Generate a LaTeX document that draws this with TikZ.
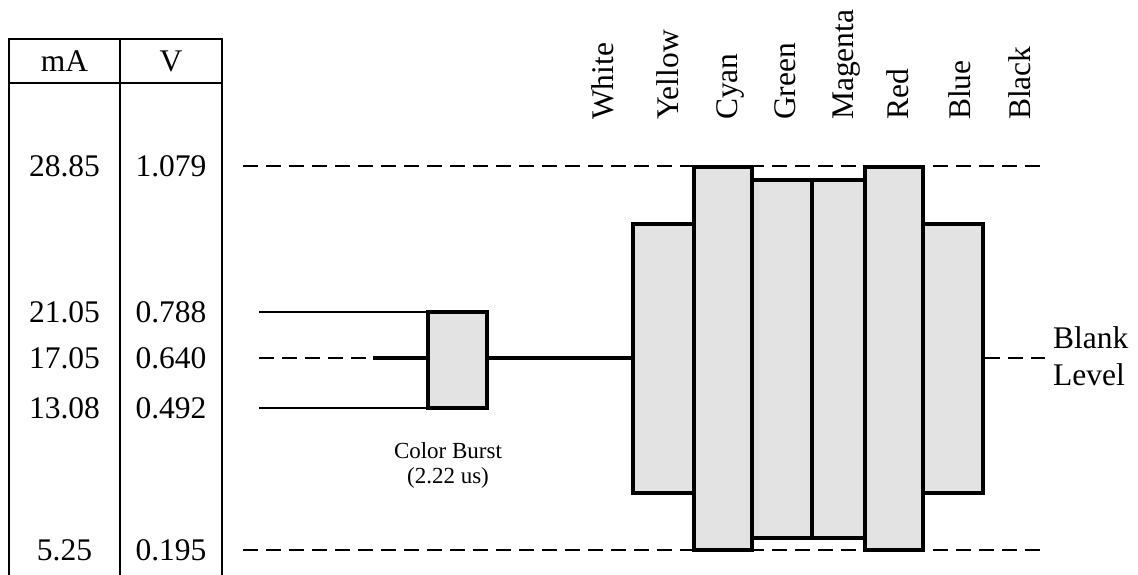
\documentclass[tikz,border=0pt]{standalone}
\usepackage{fontspec}
\setmainfont{Liberation Serif}
\definecolor{barfill}{gray}{0.89}
\begin{document}
\begin{tikzpicture}[x=1pt,y=-1pt,
  bar/.style={draw,line width=4pt,fill=barfill,inner sep=0pt},
  lbl/.style={font=\fontsize{31.5}{37}\selectfont,inner sep=0pt},
  level/.style={line width=2.5pt,dash pattern=on 15pt off 8pt}]
\useasboundingbox (0,0) rectangle (1138,575);
% table
\draw[line width=2.5pt] (9,575) -- (9,39) -- (222,39) -- (222,575);
\draw[line width=2.5pt] (9,83) -- (222,83);
\draw[line width=2.5pt] (120,39) -- (120,575);
\node[lbl] (mA) at (64.5,61) {mA};
\node[lbl] (V) at (171,61) {V};
\foreach \n/\y/\a/\v in {top/166/28.85/1.079, hi/312/21.05/0.788,
                         mid/358/17.05/0.640, lo/408/13.08/0.492,
                         bot/550/5.25/0.195}{
  \node[lbl] (ma-\n) at (64.5,\y) {\a};
  \node[lbl] (v-\n) at (171,\y) {\v};
}
% levels
\coordinate (topL) at (243,166);
\coordinate (topR) at (1040,166);
\coordinate (botL) at (243,550);
\coordinate (botR) at (1040,550);
\draw[level] (topL) -- (topR);
\draw[level] (botL) -- (botR);
% bars
\foreach \n/\x/\w/\h in {yellow/663.5/61/269, cyan/723/58/383,
                         green/782/60/358, magenta/838.5/53/358,
                         red/894/58/383, blue/953/60/269}
  \node[bar,minimum width=\w,minimum height=\h] (\n) at (\x,358.5) {};
\foreach \n/\x in {White/613, Yellow/678, Cyan/737, Green/795,
                   Magenta/853, Red/908, Blue/970, Black/1030}
  \node[lbl,rotate=90,anchor=base west] (lbl-\n) at (\x,120) {\n};
% color burst
\node[bar,minimum width=59,minimum height=96] (burst) at (457.5,360) {};
\node[font=\fontsize{23}{25}\selectfont,align=center,inner sep=0pt]
  (burstlbl) at (448,465) {Color Burst\\(2.22 us)};
\coordinate (hiL) at (259,312);
\coordinate (loL) at (259,408);
\coordinate (midL) at (259,358);
\coordinate (midS) at (373,358);
\draw[line width=2pt] (hiL) -- (hiL -| burst.west);
\draw[line width=2pt] (loL) -- (loL -| burst.west);
\draw[level] (midL) -- (midS);
\draw[line width=3.5pt] (midS) -- (midS -| burst.west);
\draw[line width=3.5pt] (burst.east |- midS) -- (midS -| yellow.west);
% blank level
\coordinate (blankR) at (1045,358);
\draw[level] (blankR -| blue.east) -- (blankR);
\node[lbl,anchor=west,align=left] (blank) at (1053,356) {Blank\\Level};
\end{tikzpicture}
\end{document}
